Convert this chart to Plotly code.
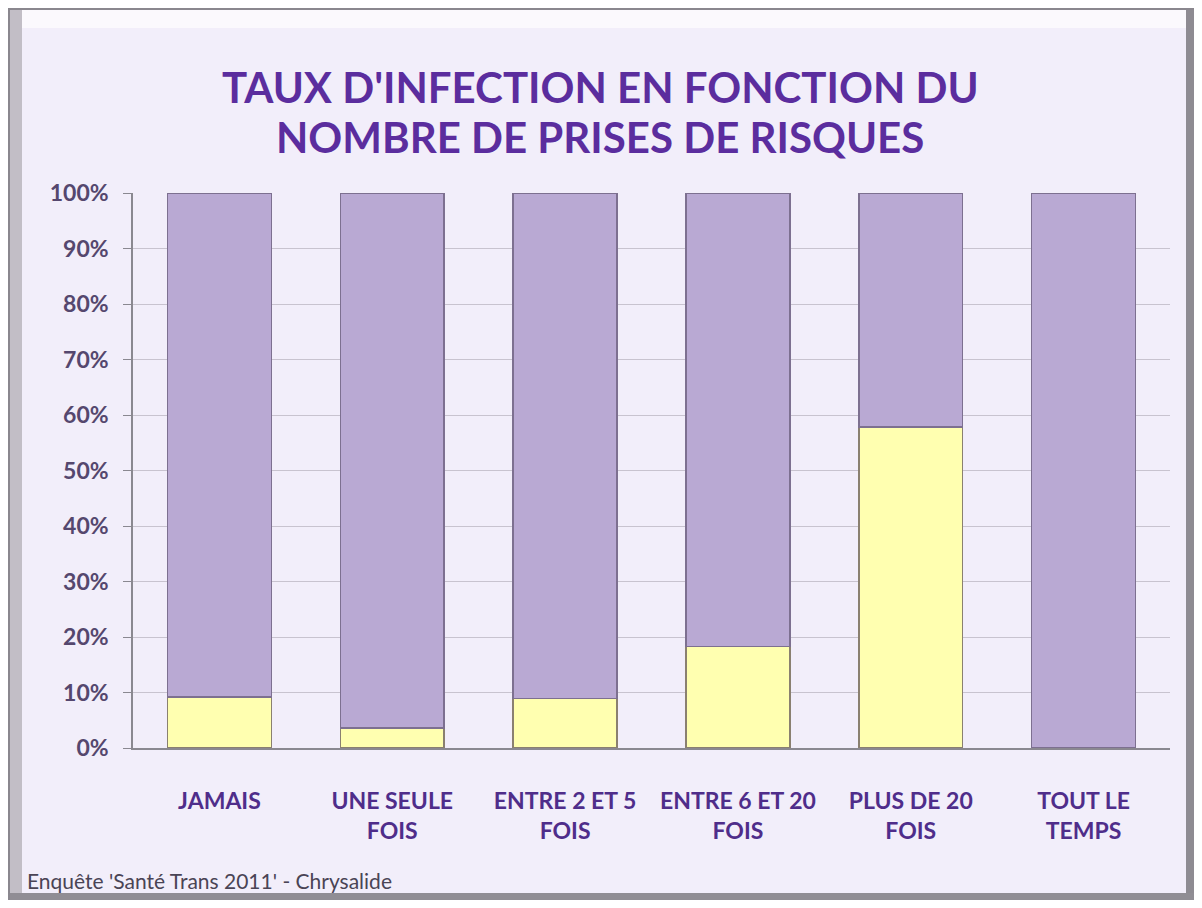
import plotly.graph_objects as go

categories = ["JAMAIS", "UNE SEULE<br>FOIS", "ENTRE 2 ET 5<br>FOIS", "ENTRE 6 ET 20<br>FOIS", "PLUS DE 20<br>FOIS", "TOUT LE<br>TEMPS"]
infected = [9.2, 3.6, 8.9, 18.3, 57.8, 0.0]
not_infected = [100 - v for v in infected]
y_ticks = [0, 10, 20, 30, 40, 50, 60, 70, 80, 90, 100]
y_tick_labels = [f"{v}%" for v in y_ticks]
title_lines = ["TAUX D'INFECTION EN FONCTION DU", "NOMBRE DE PRISES DE RISQUES"]
source_text = "Enquête 'Santé Trans 2011' - Chrysalide"

# figure is placed at (8, 8) in the page (default body margin)
W, H = 1186, 892
L, R, T, B = 125, 24, 185, 152
pw, ph = W - L - R, H - T - B


def px(x):
    return (x - L) / pw


def py(y):
    return (H - B - y) / ph


fig = go.Figure()
fig.add_trace(go.Bar(
    x=categories, y=infected, name="Infecté",
    marker=dict(color="#ffffb0", line=dict(color="#8a8070", width=1.5)),
    width=0.6, hoverinfo="y",
))
fig.add_trace(go.Bar(
    x=categories, y=not_infected, name="Non infecté",
    marker=dict(color="#b9a9d3", line=dict(color="#7d7090", width=1.5)),
    width=0.6, hoverinfo="y",
))


def rect(x0, y0, x1, y1, color):
    return dict(type="rect", xref="paper", yref="paper", layer="below",
                x0=px(x0), x1=px(x1), y0=py(y1), y1=py(y0),
                fillcolor=color, line=dict(width=0))


shapes = [
    rect(2, 2, W, H, "#b4b0b8"),          # bevel base
    rect(2, 2, W - 2, 20, "#fbf9fd"),     # top bevel (light)
    rect(2, 2, 14, H - 2, "#c2bec6"),     # left bevel
    rect(W - 8, 2, W, H, "#8e8b92"),      # right bevel
    rect(2, H - 7, W, H, "#908d94"),      # bottom bevel
    rect(14, 20, W - 8, H - 7, "#f2eefa"),  # inner panel
]

annotations = [
    dict(text=title_lines[0], xref="paper", yref="paper",
         x=px(592), y=py(79), xanchor="center", yanchor="middle", showarrow=False,
         font=dict(family="Lato", size=42, color="#5b2d9e", weight="bold")),
    dict(text=title_lines[1], xref="paper", yref="paper",
         x=px(592), y=py(129), xanchor="center", yanchor="middle", showarrow=False,
         font=dict(family="Lato", size=42, color="#5b2d9e", weight="bold")),
    dict(text=source_text, xref="paper", yref="paper",
         x=px(17), y=py(872), xanchor="left", yanchor="middle", showarrow=False,
         font=dict(family="Lato", size=21, color="#4a4455")),
]

fig.update_layout(
    width=W, height=H,
    barmode="stack",
    bargap=0.4,
    showlegend=False,
    paper_bgcolor="#8a878e",
    plot_bgcolor="#e5e0ec",
    margin=dict(l=L, r=R, t=T, b=B),
    shapes=shapes,
    annotations=annotations,
    font=dict(family="Lato"),
    xaxis=dict(
        showgrid=False,
        tickfont=dict(family="Lato", size=23, color="#4f2d8a", weight="bold"),
        ticks="", ticklabelstandoff=32,
        showline=True, linecolor="#8a8890", linewidth=1.5,
    ),
    yaxis=dict(
        range=[0, 100],
        tickvals=y_ticks, ticktext=y_tick_labels,
        tickfont=dict(family="Lato", size=23, color="#55476e", weight="bold"),
        ticks="outside", ticklen=8, tickcolor="#8a8890",
        ticklabelstandoff=10,
        showgrid=True, gridcolor="#c8c3cf", gridwidth=1,
        showline=True, linecolor="#8a8890", linewidth=1.5,
        zeroline=False,
    ),
)

fig.write_html("out.html")
